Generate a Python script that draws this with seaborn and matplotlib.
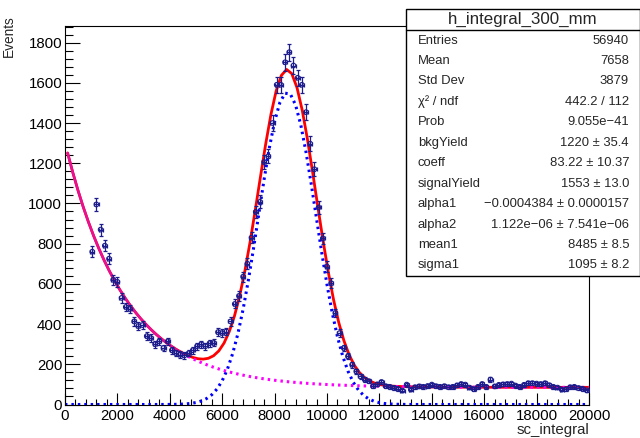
import numpy as np
import pandas as pd
import matplotlib
matplotlib.use("Agg")
import matplotlib.pyplot as plt
import seaborn as sns
from matplotlib.ticker import MultipleLocator
from matplotlib.patches import Rectangle
from matplotlib.lines import Line2D

# ---------------- data ----------------
bin_width = 160
bin_centers = np.arange(1040, 20000, bin_width)
counts = [
    760, 995, 870, 790, 725, 620, 610, 530, 485, 475,
    413, 390, 395, 340, 330, 300, 314, 281, 314, 270,
    256, 248, 244, 255, 270, 290, 300, 290, 305,
    306, 360, 355, 363, 413, 500, 540, 636, 700, 830,
    958, 1008, 1206, 1234, 1400, 1590, 1590, 1702, 1752, 1686,
    1625, 1590, 1454, 1297, 1170, 980, 826, 686, 603, 455,
    355, 281, 240, 198, 165, 140, 124, 116, 91, 100,
    112, 91, 88, 83, 78, 69, 99, 74, 86, 90, 88, 92,
    99, 91, 88, 91, 86, 88, 95, 102, 99, 84,
    76, 88, 102, 88, 124, 90, 98, 100, 102, 104,
    94, 88, 98, 106, 106, 104, 102, 106, 96, 88,
    84, 74, 76, 86, 88, 82, 78, 70,
]

# fit parameters (from the stats box)
bkgYield = 1220.0
coeff = 83.22
signalYield = 1553.0
alpha1 = -0.0004384
alpha2 = 1.122e-06
mean1 = 8485.0
sigma1 = 1095.0
fit_start = 100
bkg_solid_end = 4600

stat_labels = ["Entries", "Mean", "Std Dev", "\u03c7\u00b2 / ndf", "Prob", "bkgYield",
               "coeff", "signalYield", "alpha1", "alpha2", "mean1", "sigma1"]
stat_values = ["56940", "7658", "3879", "442.2 / 112", "9.055e\u221241", "1220 \u00b1 35.4",
               "83.22 \u00b1 10.37", "1553 \u00b1 13.0", "\u22120.0004384 \u00b1 0.0000157",
               "1.122e\u221206 \u00b1 7.541e\u221206", "8485 \u00b1 8.5", "1095 \u00b1 8.2"]
hist_name = "h_integral_300_mm"

# ---------------- style ----------------
sns.set_theme(style="ticks")
plt.rcParams["font.family"] = ["Liberation Sans", "DejaVu Sans"]

W, H = 640, 438
fig = plt.figure(figsize=(W / 100, H / 100), dpi=100)
ax_l, ax_r, ax_t, ax_b = 65, 589, 25.5, 404.5
ax = fig.add_axes([ax_l / W, 1 - ax_b / H, (ax_r - ax_l) / W, (ax_b - ax_t) / H])

navy = "#1c1c8c"

# fit curves
xg = np.linspace(0, 20000, 101)
xs = np.linspace(fit_start, 20000, 101)
gauss = pd.DataFrame({"x": xg,
                      "sig": signalYield * np.exp(-0.5 * ((xg - mean1) / sigma1) ** 2)})
bkg = bkgYield * np.exp(alpha1 * xs) + coeff * np.exp(alpha2 * xs)
sig = signalYield * np.exp(-0.5 * ((xs - mean1) / sigma1) ** 2)
curves = pd.DataFrame({"x": xs, "bkg": bkg, "total": bkg + sig})

sns.lineplot(data=gauss, x="x", y="sig", ax=ax, color="#0000ff", lw=2.2,
             linestyle=(0, (0.8, 1.3)), estimator=None, sort=False)
sns.lineplot(data=curves, x="x", y="total", ax=ax, color="#ff0000", lw=2.0,
             estimator=None, sort=False)
sns.lineplot(data=curves[curves.x >= bkg_solid_end - 200], x="x", y="bkg", ax=ax,
             color="#ff00ff", lw=2.2, linestyle=(0, (0.8, 1.3)), estimator=None, sort=False)
sns.lineplot(data=curves[curves.x <= bkg_solid_end], x="x", y="bkg", ax=ax,
             color="#e6109a", lw=1.8, estimator=None, sort=False)

# data points
df = pd.DataFrame({"sc_integral": bin_centers, "Events": counts})
ax.errorbar(df["sc_integral"], df["Events"], yerr=np.sqrt(df["Events"]),
            xerr=bin_width / 2, fmt="none", ecolor=navy, elinewidth=0.9,
            capsize=1.6, capthick=0.9, zorder=5)
sns.scatterplot(data=df, x="sc_integral", y="Events", ax=ax, marker="o", s=11,
                facecolor="none", edgecolor=navy, linewidth=0.8, zorder=6)

ax.set_xlim(0, 20000)
ax.set_ylim(0, 1885)
ax.set_xlabel("")
ax.set_ylabel("")
ax.xaxis.set_major_locator(MultipleLocator(2000))
ax.xaxis.set_minor_locator(MultipleLocator(400))
ax.yaxis.set_major_locator(MultipleLocator(200))
ax.yaxis.set_minor_locator(MultipleLocator(40))
ax.tick_params(axis="both", which="both", direction="in", colors="black",
               labelsize=10.8, top=False, right=False)
ax.tick_params(axis="y", which="major", length=11, width=0.8, pad=2)
ax.tick_params(axis="y", which="minor", length=5.5, width=0.8)
ax.tick_params(axis="x", which="major", length=8.5, width=0.8, pad=3)
ax.tick_params(axis="x", which="minor", length=4, width=0.8)
for s in ax.spines.values():
    s.set_visible(True)
    s.set_color("black")
    s.set_linewidth(0.8)

fig.text(8.5 / W, 1 - 15 / H, "Events", rotation=90, ha="center", va="top", fontsize=9.8)
fig.text(ax_r / W, 1 - 434 / H, "sc_integral", ha="right", va="baseline", fontsize=10.8)

# stats box
bx0, bx1, by0, by1 = 406, 639.5, 9, 276
fig.patches.append(Rectangle((bx0 / W, 1 - by1 / H), (bx1 - bx0) / W, (by1 - by0) / H,
                             transform=fig.transFigure, facecolor="white",
                             edgecolor="black", lw=1.0, zorder=10))
fig.lines.append(Line2D([bx0 / W, bx1 / W], [1 - 29.5 / H, 1 - 29.5 / H],
                        transform=fig.transFigure, color="black", lw=1.0, zorder=11))
fig.text((bx0 + bx1) / 2 / W, 1 - 19.5 / H, hist_name, ha="center", va="center",
         fontsize=12.2, zorder=12)
for i, (lab, val) in enumerate(zip(stat_labels, stat_values)):
    yy = 1 - (40.5 + 20.45 * i) / H
    fig.text(418 / W, yy, lab, ha="left", va="center", fontsize=9.4, zorder=12)
    fig.text(629 / W, yy, val, ha="right", va="center", fontsize=9.4, zorder=12)

fig.savefig("out.png", dpi=100)
